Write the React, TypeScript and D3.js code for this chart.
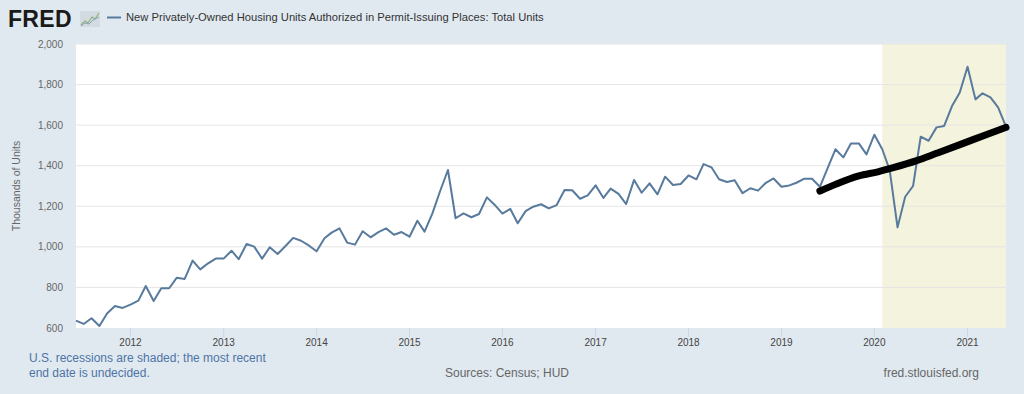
import * as d3 from "d3";

// monthly permits, thousands of units (SAAR), starting 2011-06
const startMonth = "2011-06-01";
const permits = [
  636, 620, 648, 610, 672, 708, 699,
  715, 735, 807, 733, 796, 796, 848, 842, 932, 889, 919, 942,
  942, 981, 939, 1014, 1001, 942, 998, 965, 1004, 1044, 1030, 1007,
  978, 1042, 1070, 1091, 1021, 1011, 1077, 1047, 1073, 1091, 1060, 1073,
  1050, 1129, 1075, 1165, 1274, 1379, 1141, 1165, 1146, 1162, 1244, 1208,
  1164, 1187, 1116, 1176, 1198, 1210, 1190, 1206, 1280, 1279, 1237, 1254,
  1303, 1241, 1287, 1261, 1211, 1330, 1267, 1313, 1259, 1346, 1305, 1310,
  1352, 1333, 1408, 1392, 1333, 1320, 1328, 1265, 1289, 1277, 1316, 1337,
  1296, 1303, 1316, 1336, 1336, 1296, 1387, 1481, 1441, 1510, 1510, 1456,
  1553, 1481, 1379, 1096, 1247, 1300, 1543, 1523, 1589, 1596, 1694, 1760,
  1888, 1727, 1757, 1737, 1688, 1593,
];

// hand-drawn black trend line
const trendDates = [
  "2019-06-01", "2019-08-01", "2019-11-01", "2020-01-15", "2020-03-15",
  "2020-06-15", "2020-09-01", "2020-12-15", "2021-03-15", "2021-06-01",
];
const trendValues = [1275, 1308, 1350, 1370, 1390, 1425, 1461, 1510, 1553, 1589];

const recessionStart = "2020-02-01";
const yTicks = [600, 800, 1000, 1200, 1400, 1600, 1800, 2000];

const W = 1024;
const H = 394;
const plot = { left: 76, right: 1006, top: 44, bottom: 328 };
const font = "'Liberation Sans', Arial, sans-serif";

export default function App() {
  const parse = d3.utcParse("%Y-%m-%d");
  const t0 = parse(startMonth)!;
  const dates = permits.map((_, i) => d3.utcMonth.offset(t0, i));

  const x = d3
    .scaleUtc()
    .domain([t0, dates[dates.length - 1]])
    .range([plot.left, plot.right]);
  const y = d3.scaleLinear().domain([600, 2000]).range([plot.bottom, plot.top]);

  const line = d3
    .line<number>()
    .x((_, i) => x(dates[i]))
    .y((d) => y(d));

  const trend = d3
    .line<number>()
    .x((_, i) => x(parse(trendDates[i])!))
    .y((d) => y(d))
    .curve(d3.curveMonotoneX);

  const years = d3.utcYear.range(d3.utcYear.ceil(t0), dates[dates.length - 1]);
  const recX = x(parse(recessionStart)!);

  return (
    <svg
      width={W}
      height={H}
      style={{ position: "absolute", left: 0, top: 0, display: "block" }}
      fontFamily={font}
    >
      <rect width={W} height={H} fill="#e1e9f0" />

      {/* header */}
      <text x={8} y={27} fontSize={23} fontWeight="bold" fill="#1a1a1a" letterSpacing={0.3}>
        FRED
      </text>
      <g transform="translate(80,11)">
        <rect width={20} height={16} fill="#d3dbe2" />
        <polyline points="1,14 5,10 8,12 12,6 15,8 19,2" fill="none" stroke="#8fb37a" strokeWidth={1.2} />
        <polyline points="1,15 5,12 9,13 13,9 19,6" fill="none" stroke="#8aa3bd" strokeWidth={1} />
      </g>
      <line x1={107} x2={121} y1={17.5} y2={17.5} stroke="#587a9c" strokeWidth={2} />
      <text x={126} y={21} fontSize={11.2} fill="#333">
        New Privately-Owned Housing Units Authorized in Permit-Issuing Places: Total Units
      </text>

      {/* plot area */}
      <rect x={plot.left} y={plot.top} width={plot.right - plot.left} height={plot.bottom - plot.top} fill="#fff" />
      <rect x={recX} y={plot.top} width={plot.right - recX} height={plot.bottom - plot.top} fill="#f4f3dd" />
      {yTicks.map((t) => (
        <g key={t}>
          {t > 600 && (
            <line x1={plot.left} x2={plot.right} y1={y(t)} y2={y(t)} stroke="#e6e6e6" strokeWidth={1} />
          )}
          <text x={63} y={y(t)} dy="0.35em" textAnchor="end" fontSize={10} fill="#666">
            {d3.format(",")(t)}
          </text>
        </g>
      ))}
      {years.map((d) => (
        <g key={d.getTime()}>
          <line x1={x(d)} x2={x(d)} y1={plot.bottom} y2={plot.bottom + 9} stroke="#ccd6eb" />
          <text x={x(d)} y={346} textAnchor="middle" fontSize={10} fill="#444">
            {d3.utcFormat("%Y")(d)}
          </text>
        </g>
      ))}
      <text
        transform={`translate(20,${(plot.top + plot.bottom) / 2}) rotate(-90)`}
        textAnchor="middle"
        fontSize={10.5}
        fill="#666"
      >
        Thousands of Units
      </text>

      <path d={line(permits) ?? ""} fill="none" stroke="#587a9c" strokeWidth={2} strokeLinejoin="round" />
      <path
        d={trend(trendValues) ?? ""}
        fill="none"
        stroke="#000"
        strokeWidth={7}
        strokeLinecap="round"
        strokeLinejoin="round"
      />

      {/* footer */}
      <text x={29} y={362} fontSize={12} fill="#4d74a6">
        U.S. recessions are shaded; the most recent
      </text>
      <text x={29} y={377} fontSize={12} fill="#4d74a6">
        end date is undecided.
      </text>
      <text x={507} y={377} textAnchor="middle" fontSize={12} fill="#666">
        Sources: Census; HUD
      </text>
      <text x={979} y={377} textAnchor="end" fontSize={12} fill="#666">
        fred.stlouisfed.org
      </text>
    </svg>
  );
}
